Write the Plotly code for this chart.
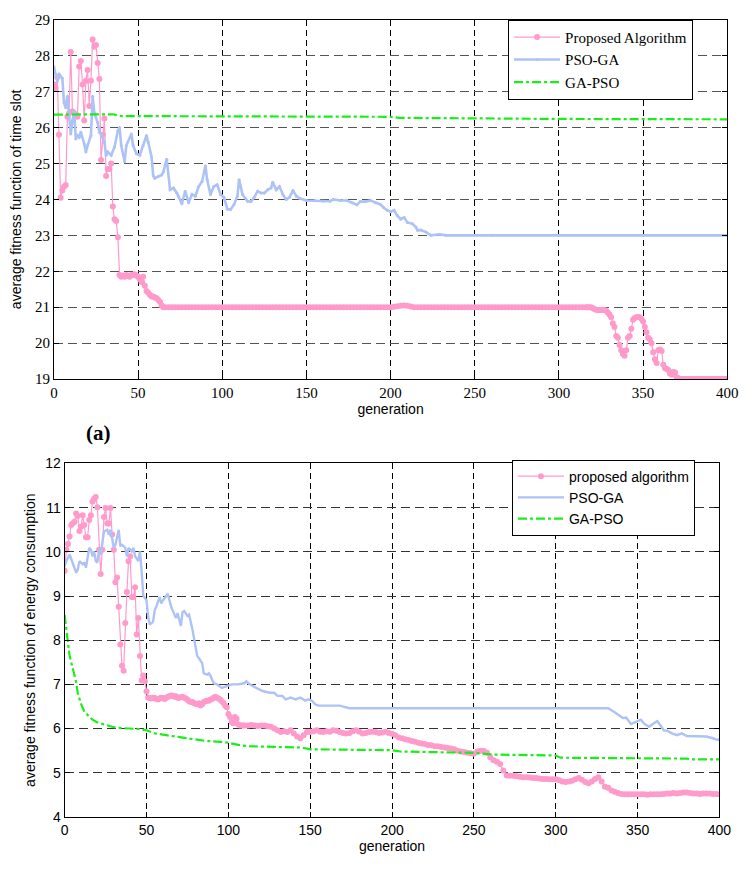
import plotly.graph_objects as go

# ---------------- (a) time-slot fitness ----------------
# Proposed algorithm: generations 0..66 one per generation
a_prop_gen_head = list(range(0, 67))
a_prop_val_head = [
    27.2, 27.1, 27.4, 25.8, 24.05, 24.25, 24.35, 24.4, 26.3, 26.4,
    28.1, 26.45, 26.4, 26.35, 26.3, 27.7, 27.85, 27.2, 26.2, 27.3,
    27.6, 26.6, 27.3, 28.45, 28.25, 28.3, 27.8, 27.35, 25.1, 25.8,
    26.25, 24.65, 24.85, 24.85, 25.0, 23.8, 23.45, 23.4, 22.95, 21.9,
    21.85, 21.88, 21.85, 21.9, 21.87, 21.85, 21.9, 21.9, 21.92, 21.88,
    21.85, 21.78, 21.7, 21.85, 21.6, 21.45, 21.4, 21.35, 21.3, 21.3,
    21.27, 21.25, 21.2, 21.15, 21.05, 21.0, 21.0,
]
# plateau, every second generation 68..316
a_prop_gen_mid = list(range(68, 317, 2))
a_prop_val_mid = [
    21.0, 21.0, 21.0, 21.0, 21.0, 21.0, 21.0, 21.0, 21.0, 21.0,
    21.0, 21.0, 21.0, 21.0, 21.0, 21.0, 21.0, 21.0, 21.0, 21.0,
    21.0, 21.0, 21.0, 21.0, 21.0, 21.0, 21.0, 21.0, 21.0, 21.0,
    21.0, 21.0, 21.0, 21.0, 21.0, 21.0, 21.0, 21.0, 21.0, 21.0,
    21.0, 21.0, 21.0, 21.0, 21.0, 21.0, 21.0, 21.0, 21.0, 21.0,
    21.0, 21.0, 21.0, 21.0, 21.0, 21.0, 21.0, 21.0, 21.0, 21.0,
    21.0, 21.0, 21.0, 21.0, 21.0, 21.0, 21.0, 21.01, 21.03, 21.04,
    21.05, 21.04, 21.02, 21.0, 21.0, 21.0, 21.0, 21.0, 21.0, 21.0,
    21.0, 21.0, 21.0, 21.0, 21.0, 21.0, 21.0, 21.0, 21.0, 21.0,
    21.0, 21.0, 21.0, 21.0, 21.0, 21.0, 21.0, 21.0, 21.0, 21.0,
    21.0, 21.0, 21.0, 21.0, 21.0, 21.0, 21.0, 21.0, 21.0, 21.0,
    21.0, 21.0, 21.0, 21.0, 21.0, 21.0, 21.0, 21.0, 21.0, 21.0,
    21.0, 21.0, 21.0, 21.0, 21.0,
]
# final descent, generations 317..400
a_prop_gen_tail = list(range(317, 401))
a_prop_val_tail = [
    21.0, 21.0, 21.0, 20.98, 20.95, 20.93, 20.92, 20.92, 20.92, 20.92,
    20.92, 20.9, 20.85, 20.8, 20.72, 20.55, 20.45, 20.2, 20.15, 19.95,
    19.8, 19.7, 19.65, 19.8, 20.15, 20.2, 20.4, 20.65, 20.7, 20.72,
    20.73, 20.72, 20.68, 20.6, 20.45, 20.3, 20.15, 20.1, 20.0, 19.75,
    19.55, 19.45, 19.8, 19.82, 19.78, 19.4, 19.3, 19.28, 19.25, 19.15,
    19.12, 19.2, 19.18, 19.05, 19.02, 19.0, 19.0, 19.0, 19.0, 19.0,
    19.0, 19.0, 19.0, 19.0, 19.0, 19.0, 19.0, 19.0, 19.0, 19.0,
    19.0, 19.0, 19.0, 19.0, 19.0, 19.0, 19.0, 19.0, 19.0, 19.0,
    19.0, 19.0, 19.0, 19.0,
]

a_psoga_gen = [
    0, 2, 3, 5, 6, 7, 8, 9, 10, 11, 12, 13, 14, 15, 16, 18, 19, 20, 22, 23,
    24, 26, 27, 28, 30, 31, 32, 34, 36, 38, 39, 40, 42, 43, 46, 47, 49, 51,
    53, 55, 56, 58, 59, 60, 62, 64, 65, 67, 69, 71, 73, 74, 76, 78, 80, 82,
    84, 86, 88, 90, 91, 93, 95, 97, 99, 101, 103, 105, 107, 109, 110, 112,
    115, 117, 119, 121, 123, 125, 127, 129, 130, 132, 134, 136, 138, 140,
    142, 144, 146, 150, 155, 160, 164, 166, 170, 174, 177, 180, 182, 185,
    188, 191, 194, 196, 198, 200, 202, 204, 206, 208, 210, 213, 215, 216,
    218, 221, 224, 229, 233, 260, 300, 350, 400,
]
a_psoga_val = [
    27.69, 27.28, 27.5, 27.37, 26.69, 26.55, 26.87, 26.32, 25.82, 26.19,
    26.46, 25.68, 25.78, 25.73, 25.87, 25.55, 25.32, 25.5, 25.78, 26.87,
    26.41, 26.14, 25.87, 25.82, 25.59, 25.23, 25.32, 25.23, 25.46, 25.91,
    26.0, 25.5, 25.05, 25.5, 25.82, 25.5, 25.27, 25.23, 25.5, 25.78,
    25.6, 25.18, 24.66, 24.59, 24.64, 24.68, 24.77, 25.12, 24.27, 24.32,
    24.18, 24.09, 23.88, 24.23, 23.91, 24.14, 24.09, 24.36, 24.5, 24.94,
    24.55, 24.14, 24.36, 24.41, 24.14, 24.06, 23.73, 23.72, 23.86, 24.09,
    24.55, 24.14, 23.95, 23.94, 24.06, 24.23, 24.18, 24.18, 24.27, 24.32,
    24.48, 24.27, 24.36, 24.14, 24.0, 24.06, 24.25, 24.09, 24.03, 23.97,
    23.96, 23.95, 23.95, 24.0, 23.97, 23.97, 23.91, 23.85, 23.94, 23.94,
    23.97, 23.91, 23.86, 23.77, 23.7, 23.66, 23.7, 23.55, 23.45, 23.5,
    23.36, 23.32, 23.23, 23.14, 23.15, 23.09, 23.0, 23.03, 23.0, 23.0,
    23.0, 23.0, 23.0,
]

a_gapso_gen = [0, 35, 40, 120, 200, 205, 230, 300, 400]
a_gapso_val = [26.36, 26.37, 26.32, 26.31, 26.3, 26.27, 26.26, 26.24, 26.23]

# ---------------- (b) energy-consumption fitness ----------------
b_prop_gen_head = list(range(0, 111))
b_prop_val_head = [
    9.57, 10.05, 10.18, 10.35, 10.61, 10.65, 10.68, 10.87, 10.81, 10.47,
    10.57, 10.83, 10.61, 10.33, 10.33, 10.72, 10.83, 11.14, 11.2, 11.24,
    11.01, 10.05, 9.5, 10.05, 10.79, 10.99, 10.64, 10.64, 10.99, 10.39,
    10.05, 9.31, 9.42, 8.76, 7.9, 7.42, 7.31, 8.39, 9.09, 9.79,
    9.9, 8.98, 8.98, 9.2, 8.13, 8.5, 7.64, 7.09, 7.2, 7.07,
    6.84, 6.7, 6.7, 6.68, 6.7, 6.69, 6.67, 6.66, 6.68, 6.7,
    6.69, 6.67, 6.7, 6.72, 6.73, 6.75, 6.74, 6.72, 6.73, 6.7,
    6.7, 6.71, 6.72, 6.7, 6.68, 6.65, 6.62, 6.6, 6.6, 6.58,
    6.56, 6.55, 6.57, 6.52, 6.55, 6.6, 6.62, 6.63, 6.63, 6.65,
    6.67, 6.7, 6.72, 6.7, 6.68, 6.65, 6.62, 6.58, 6.52, 6.48,
    6.33, 6.26, 6.15, 6.12, 6.26, 6.22, 6.1, 6.07, 6.07, 6.07,
    6.07,
]
b_prop_gen_tail = list(range(112, 401, 2))
b_prop_val_tail = [
    6.07, 6.08, 6.07, 6.06, 6.07, 6.07, 6.05, 6.04, 6.0, 5.96,
    5.92, 5.94, 5.92, 5.96, 5.89, 5.82, 5.78, 5.85, 5.92, 5.92,
    5.94, 5.96, 5.93, 5.92, 5.94, 5.93, 5.96, 5.95, 5.92, 5.9,
    5.89, 5.9, 5.94, 5.96, 5.93, 5.89, 5.9, 5.92, 5.93, 5.92,
    5.9, 5.91, 5.93, 5.9, 5.88, 5.85, 5.8, 5.78, 5.76, 5.74,
    5.72, 5.7, 5.68, 5.66, 5.65, 5.63, 5.62, 5.6, 5.6, 5.58,
    5.57, 5.56, 5.55, 5.53, 5.5, 5.48, 5.47, 5.45, 5.44, 5.43,
    5.48, 5.5, 5.49, 5.45, 5.35, 5.28, 5.25, 5.2, 5.05, 4.94,
    4.93, 4.93, 4.92, 4.91, 4.9, 4.9, 4.89, 4.88, 4.88, 4.87,
    4.86, 4.86, 4.85, 4.85, 4.85, 4.83, 4.8, 4.79, 4.8, 4.82,
    4.85, 4.88, 4.84, 4.79, 4.76, 4.8, 4.86, 4.9, 4.8, 4.68,
    4.66, 4.6, 4.57, 4.54, 4.52, 4.51, 4.51, 4.51, 4.51, 4.51,
    4.51, 4.51, 4.5, 4.51, 4.51, 4.51, 4.51, 4.52, 4.53, 4.53,
    4.54, 4.53, 4.54, 4.55, 4.55, 4.54, 4.53, 4.53, 4.52, 4.53,
    4.53, 4.53, 4.52, 4.52, 4.51, 4.5,
]

b_psoga_gen = [
    0, 1, 3, 4, 6, 7, 8, 9, 11, 12, 13, 15, 16, 17, 18, 19, 20, 21, 22, 23,
    24, 26, 27, 28, 30, 31, 33, 34, 35, 37, 38, 39, 41, 42, 43, 45, 46, 47,
    48, 50, 51, 52, 54, 55, 56, 58, 59, 60, 62, 63, 65, 67, 68, 69, 71, 72,
    73, 75, 76, 78, 80, 81, 82, 83, 84, 85, 87, 88, 89, 90, 91, 93, 96, 99,
    102, 106, 110, 111, 113, 117, 121, 125, 128, 130, 133, 135, 138, 141,
    144, 147, 149, 151, 153, 155, 160, 168, 174, 190, 250, 300, 332, 336,
    341, 343, 346, 349, 352, 354, 357, 360, 362, 364, 366, 368, 371, 374,
    377, 380, 384, 388, 392, 396, 399, 400,
]
b_psoga_val = [
    9.68, 9.79, 9.94, 9.83, 9.64, 9.53, 9.6, 9.79, 9.72, 9.76,
    9.64, 10.09, 10.05, 9.9, 10.01, 9.79, 9.76, 10.05, 9.94, 10.27,
    10.46, 10.5, 10.39, 10.5, 10.09, 10.16, 10.5, 10.13, 10.16, 10.09,
    9.9, 10.09, 10.01, 10.09, 9.9, 9.79, 10.01, 9.57, 9.01, 8.9,
    8.53, 8.35, 8.42, 8.68, 8.76, 8.98, 8.83, 8.9, 9.01, 9.05,
    8.76, 8.61, 8.5, 8.61, 8.32, 8.64, 8.66, 8.55, 8.58, 8.25,
    7.81, 7.64, 7.59, 7.53, 7.48, 7.25, 7.22, 7.25, 7.2, 7.11,
    7.03, 7.0, 6.92, 6.96, 7.0, 7.0, 7.03, 7.07, 7.0, 6.92,
    6.85, 6.81, 6.81, 6.74, 6.74, 6.66, 6.7, 6.66, 6.7, 6.63,
    6.66, 6.63, 6.55, 6.52, 6.52, 6.52, 6.46, 6.46, 6.46, 6.46,
    6.46, 6.37, 6.24, 6.25, 6.1, 6.15, 6.2, 6.11, 6.04, 6.12,
    6.17, 6.07, 5.96, 5.95, 5.89, 5.85, 5.89, 5.83, 5.83, 5.82,
    5.82, 5.78, 5.74, 5.76,
]

b_gapso_gen = [
    0, 1, 2, 3, 5, 7, 8, 10, 12, 14, 17, 20, 25, 30, 35, 40, 45, 50, 55,
    62, 72, 80, 86, 95, 100, 106, 112, 122, 135, 145, 150, 175, 200, 205,
    230, 250, 262, 300, 303, 350, 380, 383, 400,
]
b_gapso_val = [
    8.57, 8.2, 7.94, 7.65, 7.35, 7.05, 6.8, 6.56, 6.38, 6.3, 6.2, 6.14,
    6.08, 6.03, 6.01, 6.0, 5.99, 5.96, 5.89, 5.85, 5.8, 5.75, 5.72, 5.7,
    5.68, 5.63, 5.6, 5.59, 5.58, 5.57, 5.53, 5.52, 5.51, 5.48, 5.46, 5.45,
    5.41, 5.39, 5.34, 5.33, 5.32, 5.3, 5.3,
]

PINK = "#FF9ACB"
BLUE = "#ADC3F7"
GREEN = "#19EE19"
SERIF = "Liberation Serif"
SANS = "Liberation Sans"

fig = go.Figure()

# panel (a)
fig.add_trace(go.Scatter(
    x=a_prop_gen_head + a_prop_gen_mid + a_prop_gen_tail,
    y=a_prop_val_head + a_prop_val_mid + a_prop_val_tail,
    name="Proposed Algorithm", mode="lines+markers",
    line=dict(color=PINK, width=1.2), marker=dict(color=PINK, size=6),
    xaxis="x", yaxis="y", legend="legend"))
fig.add_trace(go.Scatter(
    x=a_psoga_gen, y=a_psoga_val, name="PSO-GA", mode="lines+markers",
    line=dict(color=BLUE, width=2.6), marker=dict(color=BLUE, size=3),
    xaxis="x", yaxis="y", legend="legend"))
fig.add_trace(go.Scatter(
    x=a_gapso_gen, y=a_gapso_val, name="GA-PSO", mode="lines",
    line=dict(color=GREEN, width=2.2, dash="dashdot"),
    xaxis="x", yaxis="y", legend="legend"))

# panel (b)
fig.add_trace(go.Scatter(
    x=b_prop_gen_head + b_prop_gen_tail,
    y=b_prop_val_head + b_prop_val_tail,
    name="proposed algorithm", mode="lines+markers",
    line=dict(color=PINK, width=1.2), marker=dict(color=PINK, size=6),
    xaxis="x2", yaxis="y2", legend="legend2"))
fig.add_trace(go.Scatter(
    x=b_psoga_gen, y=b_psoga_val, name="PSO-GA", mode="lines",
    line=dict(color=BLUE, width=2.4),
    xaxis="x2", yaxis="y2", legend="legend2"))
fig.add_trace(go.Scatter(
    x=b_gapso_gen, y=b_gapso_val, name="GA-PSO", mode="lines",
    line=dict(color=GREEN, width=2.2, dash="dashdot"),
    xaxis="x2", yaxis="y2", legend="legend2"))

W, H = 752, 873


def px_x(p):
    return p / W


def px_y(p):
    return 1 - p / H


def axis_common(font_family, font_size, grid_color, grid_dash):
    return dict(
        showline=True, linecolor="black", linewidth=1, mirror="ticks",
        ticks="inside", ticklen=5, tickcolor="black",
        showgrid=True, gridcolor=grid_color, gridwidth=1, griddash=grid_dash,
        zeroline=False,
        tickfont=dict(family=font_family, size=font_size, color="black"),
    )


title_font = dict(family=SANS, size=14, color="black")

xa = axis_common(SERIF, 15, "black", "6px,4px")
xa.update(domain=[px_x(51), px_x(739)], range=[0, 400], dtick=50, anchor="y",
          title=dict(text="generation", standoff=1, font=title_font))
ya = axis_common(SERIF, 15, "#555555", "9px,5px")
ya.update(domain=[px_y(378), px_y(12)], range=[19, 29], dtick=1, anchor="x",
          title=dict(text="average fitness function of time slot", standoff=10,
                     font=title_font))

xb = axis_common(SANS, 14, "black", "6px,4px")
xb.update(domain=[px_x(62), px_x(731)], range=[0, 400], dtick=50, anchor="y2",
          title=dict(text="generation", standoff=3, font=title_font))
yb = axis_common(SANS, 14, "#333333", "9px,5px")
yb.update(domain=[px_y(824), px_y(464)], range=[4, 12], dtick=1, anchor="x2",
          title=dict(text="average fitness function of energy consumption",
                     standoff=6, font=title_font))

fig.update_layout(
    width=W, height=H,
    margin=dict(l=0, r=0, t=0, b=0),
    paper_bgcolor="white", plot_bgcolor="white",
    xaxis=xa, yaxis=ya, xaxis2=xb, yaxis2=yb,
    legend=dict(
        x=px_x(515), y=px_y(12), xanchor="left", yanchor="top",
        bgcolor="white", bordercolor="black", borderwidth=1,
        font=dict(family=SERIF, size=15, color="black"),
        tracegroupgap=0, itemwidth=46,
    ),
    legend2=dict(
        x=px_x(519), y=px_y(460), xanchor="left", yanchor="top",
        bgcolor="white", bordercolor="black", borderwidth=1,
        font=dict(family=SANS, size=14, color="black"),
        tracegroupgap=0, itemwidth=46,
    ),
    annotations=[dict(
        text="<b>(a)</b>", x=px_x(82), y=px_y(433), xref="paper", yref="paper",
        showarrow=False, font=dict(family=SERIF, size=21, color="black"),
    )],
)

fig.write_html("out.html")
